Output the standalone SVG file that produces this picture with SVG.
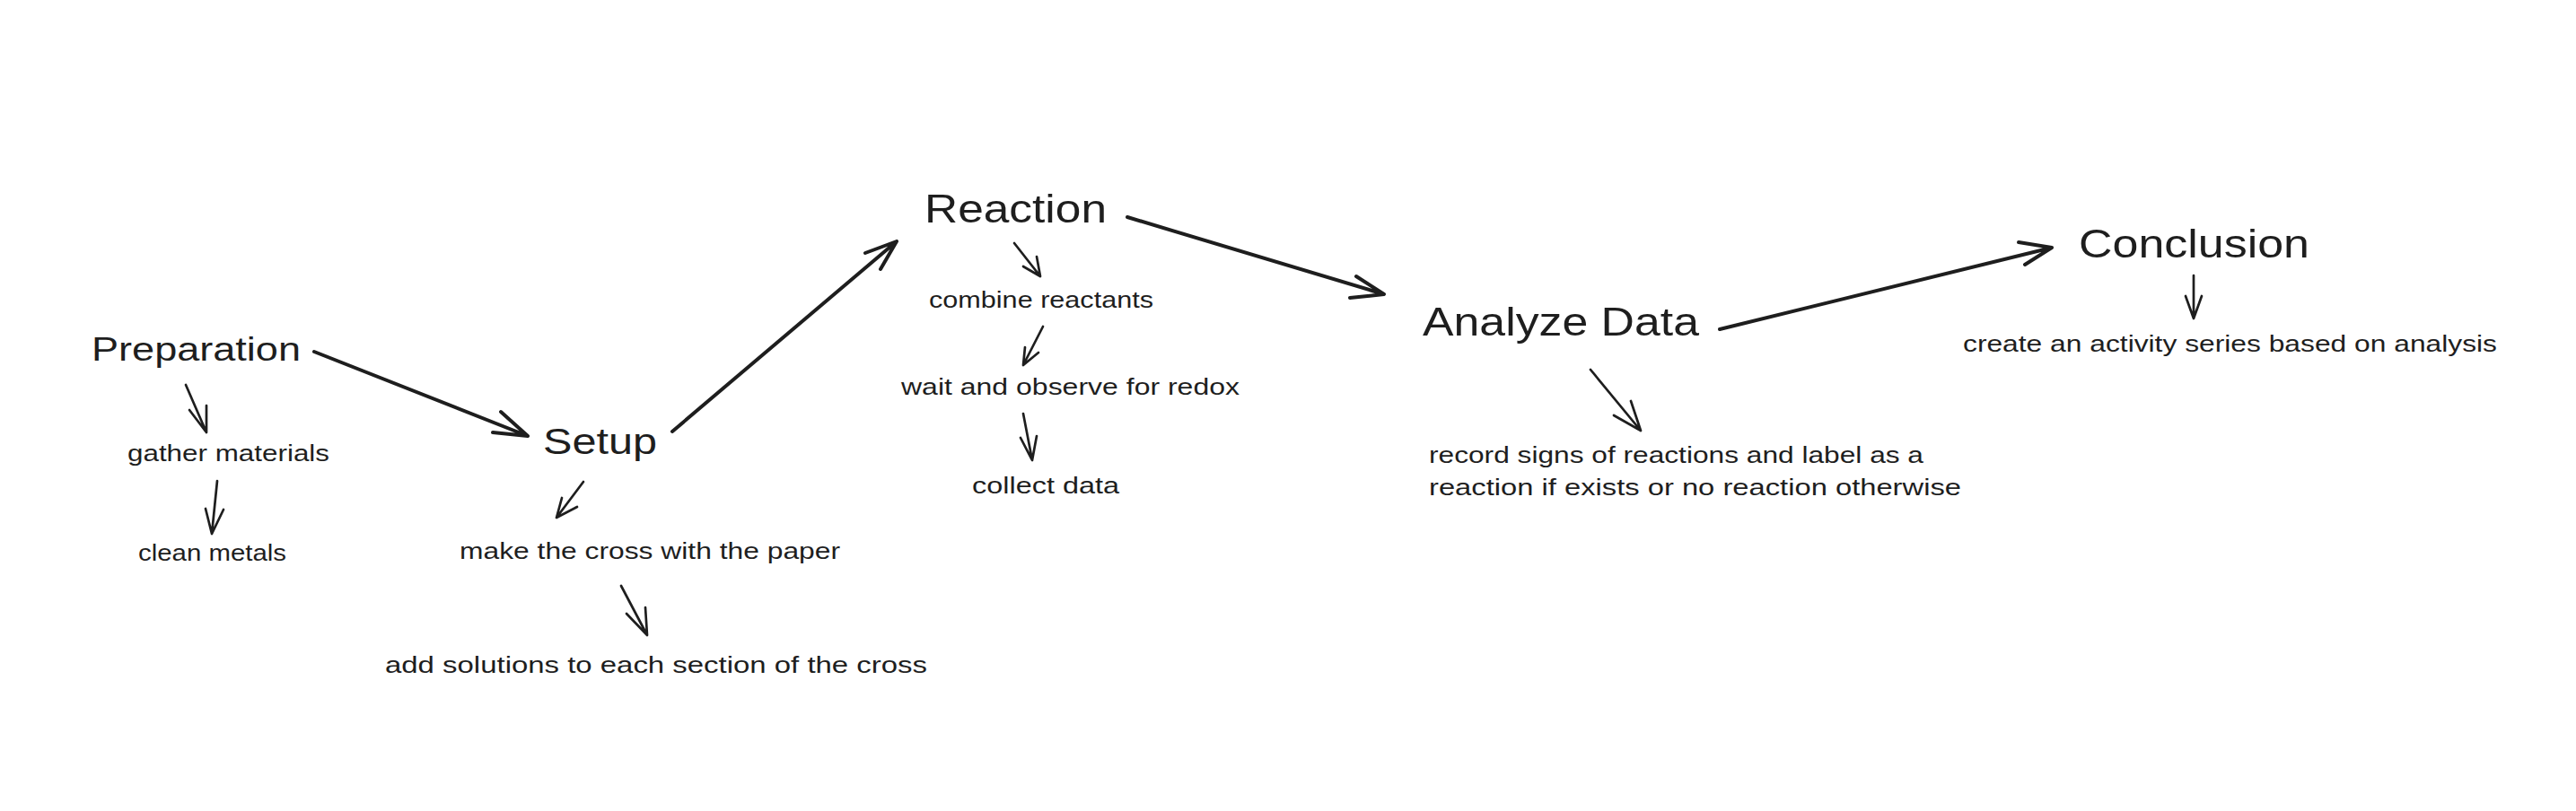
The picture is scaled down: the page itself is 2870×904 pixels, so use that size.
<svg xmlns="http://www.w3.org/2000/svg" width="2870" height="904" viewBox="0 0 2870 904">
<style>
.bg{fill:#ffffff}
.title{font-family:"Liberation Sans","DejaVu Sans",sans-serif;fill:#1e1e1e}
.note{font-family:"Liberation Sans","DejaVu Sans",sans-serif;font-size:25px;fill:#1e1e1e}
.main{fill:none;stroke:#1e1e1e;stroke-width:4;stroke-linecap:round;stroke-linejoin:round}
.sub{fill:none;stroke:#1e1e1e;stroke-width:2.7;stroke-linecap:round;stroke-linejoin:round}
</style>
<rect class="bg" x="0" y="0" width="2870" height="904"/>
<g id="preparation"><text class="title" font-size="37" x="102" y="402" textLength="233" lengthAdjust="spacingAndGlyphs">Preparation</text></g>
<g id="gather"><text class="note" x="142" y="514" textLength="225" lengthAdjust="spacingAndGlyphs">gather materials</text></g>
<g id="clean"><text class="note" x="154" y="625" textLength="165" lengthAdjust="spacingAndGlyphs">clean metals</text></g>
<g id="setup"><text class="title" font-size="41" x="605" y="506" textLength="127" lengthAdjust="spacingAndGlyphs">Setup</text></g>
<g id="make-cross"><text class="note" x="512" y="623" textLength="424" lengthAdjust="spacingAndGlyphs">make the cross with the paper</text></g>
<g id="add-solutions"><text class="note" x="429" y="750" textLength="604" lengthAdjust="spacingAndGlyphs">add solutions to each section of the cross</text></g>
<g id="reaction"><text class="title" font-size="45" x="1030" y="248" textLength="203" lengthAdjust="spacingAndGlyphs">Reaction</text></g>
<g id="combine"><text class="note" x="1035" y="343" textLength="250" lengthAdjust="spacingAndGlyphs">combine reactants</text></g>
<g id="wait"><text class="note" x="1004" y="440" textLength="377" lengthAdjust="spacingAndGlyphs">wait and observe for redox</text></g>
<g id="collect"><text class="note" x="1083" y="550" textLength="164" lengthAdjust="spacingAndGlyphs">collect data</text></g>
<g id="analyze"><text class="title" font-size="45" x="1585" y="374" textLength="308" lengthAdjust="spacingAndGlyphs">Analyze Data</text></g>
<g id="record">
<text class="note" x="1592" y="516" textLength="551" lengthAdjust="spacingAndGlyphs">record signs of reactions and label as a</text>
<text class="note" x="1592" y="552" textLength="593" lengthAdjust="spacingAndGlyphs">reaction if exists or no reaction otherwise</text>
</g>
<g id="conclusion"><text class="title" font-size="45" x="2316" y="287" textLength="257" lengthAdjust="spacingAndGlyphs">Conclusion</text></g>
<g id="create"><text class="note" x="2187" y="392" textLength="595" lengthAdjust="spacingAndGlyphs">create an activity series based on analysis</text></g>
<g id="connectors">
<path class="main" d="M350 392 L588 486 M558 459 L588 486 L549 482"/>
<path class="main" d="M749 481 L999 269 M964 282 L999 269 L981 300"/>
<path class="main" d="M1256 242 L1542 328 M1511 308 L1542 328 L1504 332"/>
<path class="main" d="M1916 367 L2286 276 M2249 270 L2286 276 L2256 295"/>
<path class="sub" d="M207 429 L230 482 M211 457 L230 482 L230 452"/>
<path class="sub" d="M242 536 L236 595 M229 567 L236 595 L249 568"/>
<path class="sub" d="M650 537 L620 577 M626 555 L620 577 L643 565"/>
<path class="sub" d="M692 653 L721 708 M698 684 L721 708 L719 677"/>
<path class="sub" d="M1130 271 L1159 308 M1140 297 L1159 308 L1155 286"/>
<path class="sub" d="M1162 364 L1140 407 M1142 387 L1140 407 L1157 393"/>
<path class="sub" d="M1140 461 L1150 513 M1137 488 L1150 513 L1155 486"/>
<path class="sub" d="M1772 412 L1828 480 M1798 463 L1828 480 L1817 447"/>
<path class="sub" d="M2444 307 L2444 355 M2435 330 L2444 355 L2453 330"/>
</g>
</svg>
